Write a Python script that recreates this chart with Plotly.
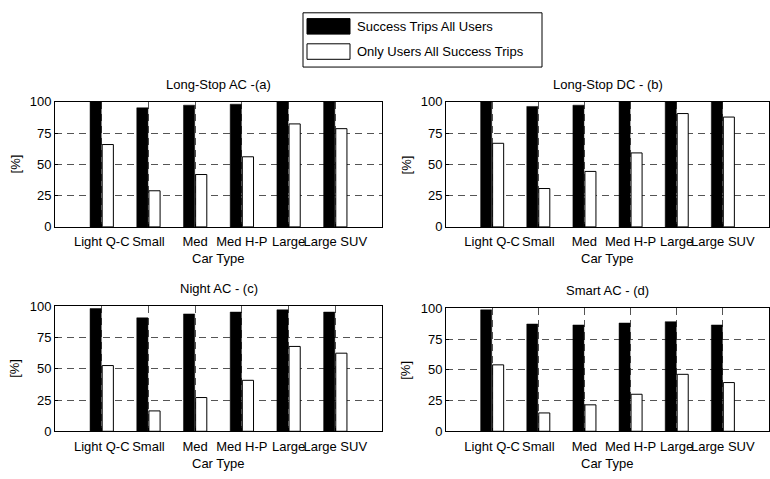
import plotly.graph_objects as go

W, H = 770, 479

categories = ["Light Q-C", "Small", "Med", "Med H-P", "Large", "Large SUV"]
series_names = ["Success Trips All Users", "Only Users All Success Trips"]
panel_titles = ["Long-Stop AC -(a)", "Long-Stop DC - (b)", "Night AC - (c)", "Smart AC - (d)"]

a_all = [100, 95.3, 97.4, 98.2, 100, 100]
a_only = [65.9, 28.9, 41.9, 56.1, 82.4, 78.6]
b_all = [100, 96.4, 97.4, 100, 100, 100]
b_only = [66.9, 30.7, 44.4, 59.2, 90.7, 87.9]
c_all = [98.2, 90.8, 93.9, 95.4, 97.2, 95.4]
c_only = [52.6, 16.3, 27.0, 40.8, 67.9, 62.5]
d_all = [98.7, 87.2, 86.4, 88.0, 89.1, 86.4]
d_only = [54.0, 14.9, 21.5, 30.1, 46.3, 39.6]

y_ticks = [0, 25, 50, 75, 100]
x_label = "Car Type"
y_label = "[%]"

FONT = "Liberation Sans, Arial, sans-serif"
FS = 13
x_pos = list(range(1, len(categories) + 1))


def px(x):
    return x / W


def py(y):
    return 1 - y / H


# panel boxes in pixels: (left, right, top, bottom)
boxes = [(55, 382, 98, 227), (446, 769, 98, 227), (55, 382, 309, 438), (446, 769, 311, 438)]
panels = [(a_all, a_only), (b_all, b_only), (c_all, c_only), (d_all, d_only)]

fig = go.Figure()
layout = dict(
    width=W, height=H,
    margin=dict(l=0, r=0, t=0, b=0),
    paper_bgcolor="white", plot_bgcolor="white",
    barmode="group", bargap=0.48, bargroupgap=0.08,
    showlegend=False,
    font=dict(family=FONT, size=FS, color="black"),
)
annotations = []
shapes = []

for i, ((l, r, t, b), (s_all, s_only)) in enumerate(zip(boxes, panels)):
    n = "" if i == 0 else str(i + 1)
    xa, ya = "x" + n, "y" + n
    fig.add_trace(go.Bar(x=x_pos, y=s_all, name=series_names[0], xaxis=xa, yaxis=ya,
                         marker=dict(color="black", line=dict(color="black", width=0.5))))
    fig.add_trace(go.Bar(x=x_pos, y=s_only, name=series_names[1], xaxis=xa, yaxis=ya,
                         marker=dict(color="white", line=dict(color="black", width=1))))
    common = dict(showline=True, mirror=True, linecolor="black", linewidth=1,
                  ticks="inside", ticklen=3, tickcolor="black",
                  showgrid=True, gridcolor="#555555", gridwidth=1, griddash="7px,5px",
                  zeroline=False, tickfont=dict(family=FONT, size=FS, color="black"))
    layout["xaxis" + n] = dict(domain=[px(l), px(r)], anchor=ya, range=[0, 7],
                               tickmode="array", tickvals=x_pos, ticktext=categories,
                               tickangle=0, ticklabelstandoff=3, **common)
    layout["yaxis" + n] = dict(domain=[py(b), py(t)], anchor=xa, range=[0, 100],
                               tickmode="array", tickvals=y_ticks, **common)
    cx = (l + r) / 2
    annotations.append(dict(text=panel_titles[i], x=px(cx), y=py(t - 18), xref="paper", yref="paper",
                            showarrow=False, xanchor="center", yanchor="middle",
                            font=dict(family=FONT, size=FS)))
    annotations.append(dict(text=x_label, x=px(cx), y=py(b + 33), xref="paper", yref="paper",
                            showarrow=False, xanchor="center", yanchor="middle",
                            font=dict(family=FONT, size=FS)))
    annotations.append(dict(text=y_label, x=px(l - 40), y=py((t + b) / 2), xref="paper", yref="paper",
                            showarrow=False, xanchor="center", yanchor="middle", textangle=-90,
                            font=dict(family=FONT, size=FS)))

# custom legend
shapes.append(dict(type="rect", xref="paper", yref="paper", x0=px(303), x1=px(542), y0=py(62), y1=py(6),
                   line=dict(color="black", width=1), fillcolor="white"))
shapes.append(dict(type="rect", xref="paper", yref="paper", x0=px(307), x1=px(350), y0=py(28), y1=py(12),
                   line=dict(color="black", width=1), fillcolor="black"))
shapes.append(dict(type="rect", xref="paper", yref="paper", x0=px(307), x1=px(350), y0=py(54), y1=py(38),
                   line=dict(color="black", width=1), fillcolor="white"))
annotations.append(dict(text=series_names[0], x=px(355), y=py(20), xref="paper", yref="paper",
                        showarrow=False, xanchor="left", yanchor="middle", font=dict(family=FONT, size=FS)))
annotations.append(dict(text=series_names[1], x=px(355), y=py(46), xref="paper", yref="paper",
                        showarrow=False, xanchor="left", yanchor="middle", font=dict(family=FONT, size=FS)))

layout["annotations"] = annotations
layout["shapes"] = shapes
fig.update_layout(**layout)
fig.write_html("out.html", config={"displayModeBar": False},
               post_script="document.body.style.margin='0';document.body.style.overflow='hidden';")
